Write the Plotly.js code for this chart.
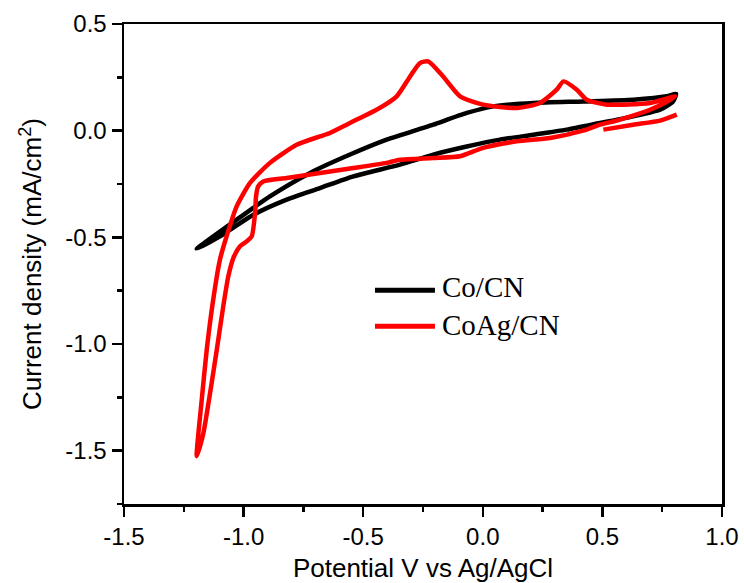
<!DOCTYPE html>
<html>
<head>
<meta charset="utf-8">
<script src="https://cdn.plot.ly/plotly-3.0.1.min.js"></script>
<style>html,body{margin:0;padding:0;background:#fff;}#chart{width:744px;height:583px;}</style>
</head>
<body>
<div id="chart"></div>
<script>
// Co/CN cyclic voltammogram (potential V vs Ag/AgCl, current density mA/cm2)
const coCN_x = [-1.196,-1.029,-0.890,-0.722,-0.555,-0.402,-0.263,-0.207,-0.067,0.044,0.211,0.420,0.629,0.769,0.808,
                0.795,0.741,0.629,0.490,0.351,0.211,0.072,-0.067,-0.207,-0.346,-0.541,-0.681,-0.820,-0.959,-1.099,-1.196];
const coCN_y = [-0.554,-0.417,-0.308,-0.198,-0.112,-0.042,0.008,0.028,0.083,0.114,0.130,0.137,0.145,0.161,0.173,
                0.137,0.098,0.067,0.036,0.005,-0.019,-0.042,-0.074,-0.112,-0.159,-0.214,-0.269,-0.323,-0.394,-0.495,-0.554];

// CoAg/CN: initial segment, then the full cycle
const coAgCN_x = [0.504,0.629,0.741,0.811, null,
  0.804,0.762,0.699,0.628,0.560,0.490,0.419,0.281,0.142,0.001,-0.095,-0.208,-0.346,-0.402,-0.541,-0.681,-0.820,-0.918,
  -0.939,-0.948,-0.952,-0.966,-0.987,-1.015,-1.043,-1.064,-1.085,-1.112,-1.140,-1.168,-1.196,
  -1.175,-1.154,-1.127,-1.099,-1.071,-1.029,-0.973,-0.890,-0.778,-0.681,-0.639,-0.569,-0.527,-0.444,-0.360,-0.304,
  -0.263,-0.228,-0.166,-0.095,0.001,0.142,0.239,0.309,0.337,0.393,0.434,0.518,0.699,0.804];
const coAgCN_y = [0.005,0.028,0.047,0.075, null,
  0.161,0.131,0.098,0.070,0.047,0.028,0.000,-0.034,-0.050,-0.081,-0.120,-0.128,-0.136,-0.151,-0.175,-0.198,-0.222,-0.238,
  -0.261,-0.308,-0.386,-0.495,-0.519,-0.542,-0.597,-0.683,-0.823,-1.026,-1.229,-1.417,-1.526,
  -1.261,-1.026,-0.792,-0.605,-0.495,-0.355,-0.245,-0.151,-0.066,-0.027,-0.011,0.028,0.052,0.098,0.161,0.254,
  0.317,0.325,0.254,0.161,0.122,0.106,0.130,0.192,0.231,0.192,0.145,0.122,0.130,0.161];

const seriesNames = ['Co/CN', 'CoAg/CN'];
const xTickVals = [-1.5,-1.0,-0.5,0.0,0.5,1.0];
const xTickText = ['-1.5','-1.0','-0.5','0.0','0.5','1.0'];
const yTickVals = [-1.5,-1.0,-0.5,0.0,0.5];
const yTickText = ['-1.5','-1.0','-0.5','0.0','0.5'];

const traces = [
  {x: coCN_x, y: coCN_y, name: seriesNames[0], mode: 'lines', connectgaps: false,
   line: {color: '#000000', width: 4.5, shape: 'spline', smoothing: 0.6}},
  {x: coAgCN_x, y: coAgCN_y, name: seriesNames[1], mode: 'lines', connectgaps: false,
   line: {color: '#ff0000', width: 4.5, shape: 'spline', smoothing: 0.6}}
];

const sansFont = 'Liberation Sans, Arial, sans-serif';
const serifFont = 'Liberation Serif, Times New Roman, serif';

const axisCommon = {
  showline: true, linecolor: '#000', linewidth: 2.5, mirror: true,
  ticks: 'outside', ticklen: 10, tickwidth: 2.5, tickcolor: '#000',
  showgrid: false, zeroline: false, tickmode: 'array',
  tickfont: {family: sansFont, size: 24, color: '#000'},
  minor: {tickmode: 'linear', tick0: 0, dtick: 0.25, ticks: 'outside', ticklen: 5, tickwidth: 2.5, tickcolor: '#000', showgrid: false}
};

const layout = {
  width: 744, height: 583,
  margin: {l: 124, r: 22, t: 24, b: 79},
  paper_bgcolor: '#ffffff', plot_bgcolor: '#ffffff',
  showlegend: false,
  xaxis: Object.assign({}, axisCommon, {
    range: [-1.5, 1.0], tickvals: xTickVals, ticktext: xTickText,
    title: {text: 'Potential V vs Ag/AgCl', font: {family: sansFont, size: 26, color: '#000'}, standoff: 12}
  }),
  yaxis: Object.assign({}, axisCommon, {
    range: [-1.75, 0.5], tickvals: yTickVals, ticktext: yTickText,
    title: {text: 'Current density (mA/cm<sup>2</sup>)', font: {family: sansFont, size: 26, color: '#000'}, standoff: 16}
  }),
  shapes: [
    {type: 'line', xref: 'paper', yref: 'paper', x0: 0.4197, x1: 0.520, y0: 0.4452, y1: 0.4452,
     line: {color: '#000000', width: 5}},
    {type: 'line', xref: 'paper', yref: 'paper', x0: 0.4197, x1: 0.520, y0: 0.3703, y1: 0.3703,
     line: {color: '#ff0000', width: 5}}
  ],
  annotations: [
    {xref: 'paper', yref: 'paper', x: 0.5284, y: 0.4515, xanchor: 'left', yanchor: 'middle', showarrow: false,
     text: seriesNames[0], font: {family: serifFont, size: 29, color: '#000'}},
    {xref: 'paper', yref: 'paper', x: 0.5284, y: 0.3738, xanchor: 'left', yanchor: 'middle', showarrow: false,
     text: seriesNames[1], font: {family: serifFont, size: 29, color: '#000'}}
  ]
};

Plotly.newPlot('chart', traces, layout, {displayModeBar: false, staticPlot: true});
</script>
</body>
</html>
